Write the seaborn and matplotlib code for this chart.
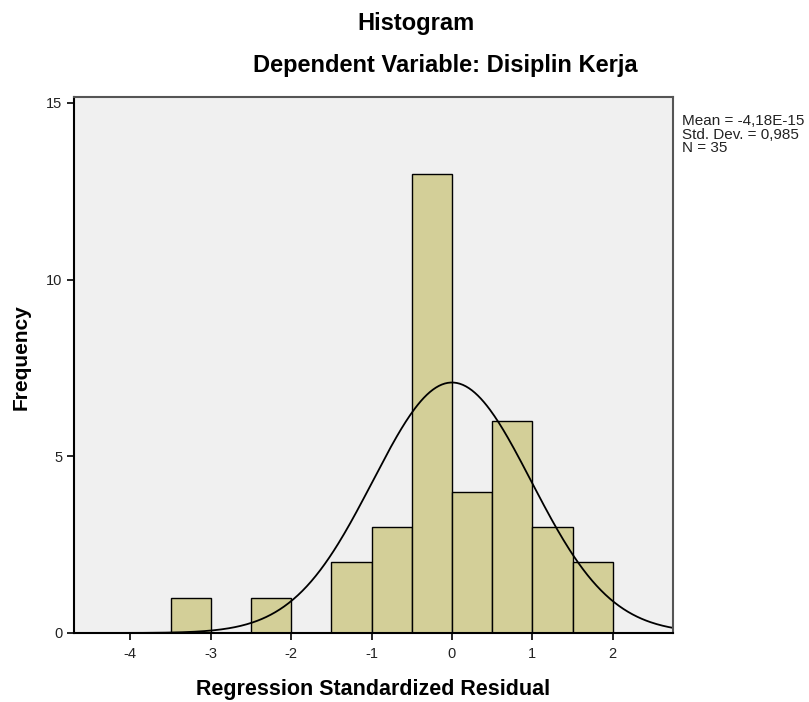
import numpy as np
import pandas as pd
import seaborn as sns
from matplotlib import pyplot as plt

# histogram bins (width 0.5) and counts
bin_edges = [-3.5, -3.0, -2.5, -2.0, -1.5, -1.0, -0.5, 0.0, 0.5, 1.0, 1.5, 2.0]
counts = [1, 0, 1, 0, 2, 3, 13, 4, 6, 3, 2]
mean_val = -4.18e-15
std_val = 0.985
n_obs = 35

sns.set_style("white")
plt.rcParams['font.family'] = ['Liberation Sans', 'DejaVu Sans']
plt.rcParams['axes.unicode_minus'] = False
plt.rcParams['text.color'] = 'black'
plt.rcParams['axes.labelcolor'] = 'black'

centers = [(a + b) / 2 for a, b in zip(bin_edges[:-1], bin_edges[1:])]
df = pd.DataFrame({'resid': centers, 'count': counts})

fig = plt.figure(figsize=(8.09, 7.02), dpi=100)
ax = fig.add_axes([0.0915, 0.0983, 0.7405, 0.7637])
ax.set_facecolor('#F0F0F0')

sns.histplot(data=df, x='resid', weights='count', bins=bin_edges, ax=ax,
             color='#D3CF98', edgecolor='black', linewidth=1.0, alpha=1.0)

# normal curve from mean / sd reported in the chart
xs = np.linspace(-4.7, 2.75, 400)
width = bin_edges[1] - bin_edges[0]
ys = n_obs * width / (std_val * np.sqrt(2 * np.pi)) * np.exp(-0.5 * ((xs - mean_val) / std_val) ** 2)
sns.lineplot(x=xs, y=ys, ax=ax, color='black', linewidth=1.3)

ax.set_xlim(-4.7, 2.75)
ax.set_ylim(0, 15.17)
ax.set_xticks([-4, -3, -2, -1, 0, 1, 2])
ax.set_yticks([0, 5, 10, 15])
ax.tick_params(axis='both', direction='out', length=5, width=1.2, labelsize=10.5,
               color='black', labelcolor='#222222', bottom=True, left=True)
ax.tick_params(axis='x', pad=5)

for side in ['top', 'right']:
    ax.spines[side].set_color('#555555')
    ax.spines[side].set_linewidth(1.5)
for side in ['left', 'bottom']:
    ax.spines[side].set_color('black')
    ax.spines[side].set_linewidth(1.5)

ax.set_xlabel('Regression Standardized Residual', fontsize=15.5, fontweight='bold', labelpad=13)
ax.set_ylabel('Frequency', fontsize=15, fontweight='bold', labelpad=11, y=0.515)

fig.text(0.514, 0.967, 'Histogram', ha='center', va='center', fontsize=17, fontweight='bold')
fig.text(0.551, 0.906, 'Dependent Variable: Disiplin Kerja', ha='center', va='center',
         fontsize=17, fontweight='bold')
fig.text(0.843, 0.837, 'Mean = -4,18E-15\nStd. Dev. = 0,985\nN = 35', ha='left', va='top',
         fontsize=11, linespacing=0.92, color='#222222')

fig.savefig('out.png', dpi=100)
